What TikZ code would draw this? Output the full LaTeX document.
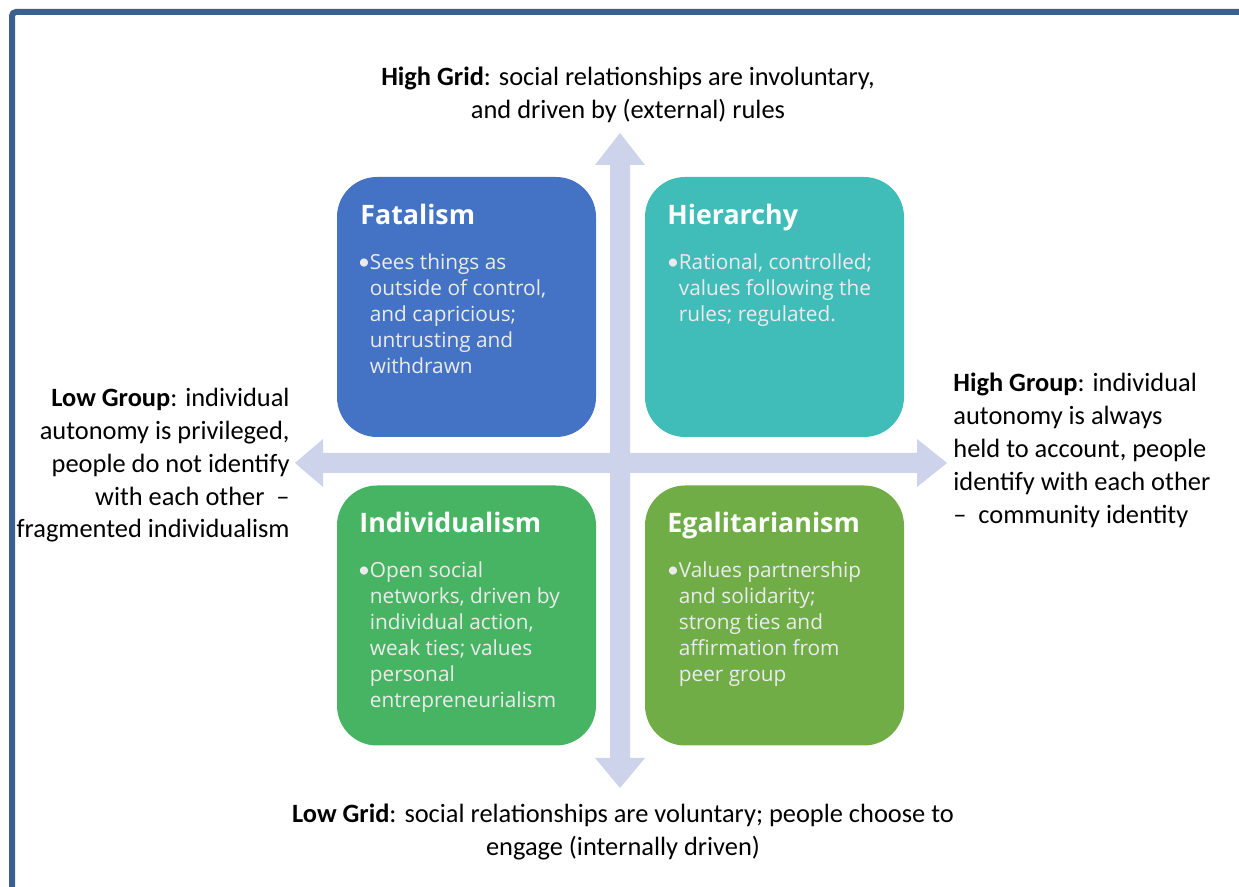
\documentclass[tikz,border=0pt]{standalone}
\usepackage{fontspec}
\setmainfont{Carlito}
\newfontfamily\quadfont{Open Sans}
\definecolor{frameblue}{HTML}{3B5F8E}
\definecolor{axisblue}{HTML}{CDD3EA}
\definecolor{fatalblue}{HTML}{4472C4}
\definecolor{hierteal}{HTML}{41BDB9}
\definecolor{indivgreen}{HTML}{47B463}
\definecolor{egalgreen}{HTML}{70AD47}
\newcommand{\qbullet}{{\rmfamily\fontsize{11.5}{13}\selectfont\textbullet}}
\newcommand{\ind}{\phantom{\qbullet}}
\tikzset{
  quad/.style={rounded corners=20pt, minimum width=129.5pt, minimum height=130pt},
  qtitle/.style={anchor=base west, inner sep=0pt, text=white, font=\quadfont\fontsize{13.4}{16}\selectfont\bfseries},
  qbody/.style={anchor=north west, inner sep=0pt, align=left, text=white!92!black, font=\quadfont\fontsize{10.4}{13}\selectfont},
  axistext/.style={inner sep=0pt, font=\fontsize{13.2}{16.4}\selectfont}
}

\begin{document}
\begin{tikzpicture}[x=0.5pt, y=-0.5pt]
    \useasboundingbox (0,0) rectangle (1239,887);
    \draw[frameblue, line width=3pt, rounded corners=2pt] (12,887) -- (12,12) -- (1239,12);

    \fill[axisblue] (620,133) -- (645,165) -- (630,165) -- (630,758) -- (645,758) -- (620,788)
        -- (595,758) -- (610,758) -- (610,165) -- (595,165) -- cycle;
    \fill[axisblue] (295,463) -- (323,439) -- (323,453) -- (917,453) -- (917,439) -- (947,463)
        -- (917,487) -- (917,473) -- (323,473) -- (323,487) -- cycle;

    \node (fatalism) [quad, fill=fatalblue] at (466.5,307) {};
    \node (hierarchy) [quad, fill=hierteal] at (774.5,307) {};
    \node (individualism) [quad, fill=indivgreen] at (466.5,615.5) {};
    \node (egalitarianism) [quad, fill=egalgreen] at (774.5,615.5) {};

    \node (fatalism-title) [qtitle] at (360,225) {Fatalism};
    \node (hierarchy-title) [qtitle] at (667,225) {Hierarchy};
    \node (individualism-title) [qtitle] at (359,533) {Individualism};
    \node (egalitarianism-title) [qtitle] at (667,533) {Egalitarianism};

    \node (fatalism-text) [qbody] at (358,253) {\qbullet Sees things as\\ \ind outside of control,\\ \ind and capricious;\\ \ind untrusting and\\ \ind withdrawn};
    \node (hierarchy-text) [qbody] at (667,253) {\qbullet Rational, controlled;\\ \ind values following the\\ \ind rules; regulated.};
    \node (individualism-text) [qbody] at (358,561) {\qbullet Open social\\ \ind networks, driven by\\ \ind individual action,\\ \ind weak ties; values\\ \ind personal\\ \ind entrepreneurialism};
    \node (egalitarianism-text) [qbody] at (667,561) {\qbullet Values partnership\\ \ind and solidarity;\\ \ind strong ties and\\ \ind affirmation from\\ \ind peer group};

    \node (high-grid) [axistext, anchor=north, align=center] at (628,67) {\textbf{High Grid}: social relationships are involuntary,\\ and driven by (external) rules};
    \node (low-grid) [axistext, anchor=north, align=center] at (623,804) {\textbf{Low Grid}: social relationships are voluntary; people choose to\\ engage (internally driven)};
    \node (low-group) [axistext, anchor=north east, align=right] at (290,388) {\textbf{Low Group}: individual\\ autonomy is privileged,\\ people do not identify\\ with each other \ –\\ fragmented individualism};
    \node (high-group) [axistext, anchor=north west, align=left] at (953,373) {\textbf{High Group}: individual\\ autonomy is always\\ held to account, people\\ identify with each other\\ – \ community identity};
\end{tikzpicture}
\end{document}
